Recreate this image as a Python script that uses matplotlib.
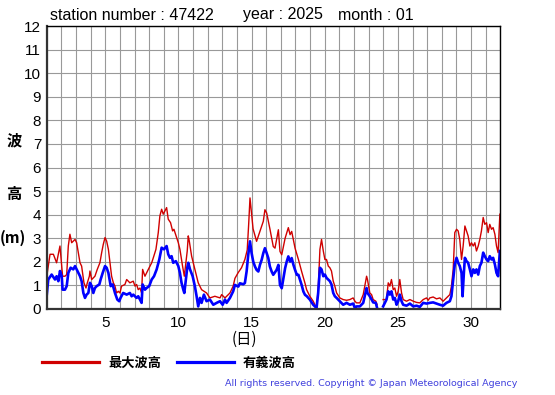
import numpy as np
import matplotlib
matplotlib.use('Agg')
import matplotlib.pyplot as plt

# max wave height (red)
max_day = [1.00, 1.22, 1.45, 1.67, 1.90, 2.08, 2.24, 2.36, 2.47, 2.58, 2.70, 2.93, 3.04, 3.27, 3.38,
           3.54, 3.68, 3.77, 3.91, 3.95, 4.07, 4.29, 4.45, 4.63, 4.75, 4.86, 4.98, 5.09, 5.21, 5.32,
           5.43, 5.55, 5.66, 5.77, 5.89, 6.00, 6.11, 6.34, 6.46, 6.68, 6.91, 7.03, 7.14, 7.25, 7.37,
           7.48, 7.55, 7.71, 7.82, 7.94, 8.17, 8.28, 8.46, 8.62, 8.73, 8.85, 8.96, 9.19, 9.30, 9.46,
           9.60, 9.69, 9.87, 9.99, 10.10, 10.28, 10.40, 10.51, 10.60, 10.67, 10.74, 10.90, 11.12,
           11.35, 11.58, 11.92, 12.15, 12.49, 12.84, 12.95, 13.18, 13.52, 13.74, 13.86, 14.09, 14.31,
           14.54, 14.70, 14.80, 14.89, 15.00, 15.10, 15.34, 15.57, 15.80, 15.91, 16.03, 16.25, 16.48,
           16.60, 16.83, 16.94, 17.06, 17.29, 17.51, 17.63, 17.74, 17.97, 18.20, 18.42, 18.65, 18.76,
           18.98, 19.21, 19.44, 19.55, 19.67, 19.78, 19.90, 20.01, 20.12, 20.24, 20.35, 20.46, 20.58,
           20.69, 20.81, 21.03, 21.26, 21.49, 21.72, 21.94, 22.06, 22.17, 22.40, 22.63, 22.86, 22.92,
           23.08, 23.20, 23.31, 23.49, 23.58, 23.80, 23.99, 24.22, 24.34, 24.45, 24.56, 24.68, 24.79,
           24.91, 25.02, 25.13, 25.25, 25.36, 25.59, 25.82, 26.05, 26.27, 26.50, 26.73, 26.96, 27.07,
           27.18, 27.41, 27.64, 27.87, 28.09, 28.32, 28.55, 28.66, 28.78, 28.89, 29.01, 29.12, 29.23,
           29.35, 29.46, 29.58, 29.69, 29.80, 29.92, 30.03, 30.15, 30.26, 30.37, 30.49, 30.60, 30.71,
           30.83, 30.94, 31.06, 31.17, 31.28, 31.40, 31.51, 31.63, 31.74, 31.85, 31.97]
max_wave = [1.39, 2.32, 2.32, 1.96, 2.67, 1.39, 1.39, 1.46, 2.67, 3.17, 2.81, 2.95, 2.81, 1.96, 1.82,
            1.11, 0.89, 1.11, 1.39, 1.61, 1.25, 1.39, 1.68, 1.96, 2.39, 2.74, 3.03, 2.88, 2.53, 1.96,
            1.39, 1.11, 0.97, 0.68, 0.75, 0.68, 0.97, 1.04, 1.25, 1.11, 1.18, 0.97, 1.04, 0.82, 0.89,
            0.68, 1.68, 1.39, 1.53, 1.68, 1.96, 2.17, 2.53, 3.24, 3.95, 4.23, 4.02, 4.30, 3.81, 3.66,
            3.31, 3.38, 3.03, 2.81, 2.53, 1.82, 1.39, 1.96, 2.46, 3.10, 2.88, 2.24, 1.68,
            1.11, 0.82, 0.68, 0.47, 0.54, 0.47, 0.61, 0.47, 0.68, 0.97, 1.30, 1.55, 1.75,
            2.10, 2.50, 3.60, 4.71, 4.00, 3.40, 2.87, 3.29, 3.72, 4.21, 4.07, 3.40, 2.65,
            2.58, 3.36, 2.44, 2.30, 3.00, 3.45, 3.15, 3.29, 2.58, 2.10, 1.59, 1.09, 0.82,
            0.54, 0.33, 0.04, 0.82, 2.53, 2.95, 2.46, 2.10, 2.10, 1.82, 1.75, 1.61, 1.18,
            0.97, 0.68, 0.47, 0.40, 0.37, 0.40, 0.47, 0.33, 0.26, 0.26, 0.61, 1.39, 1.25,
            0.68, 0.61, 0.40, 0.33, 0.18, np.nan, 0.40, 0.40, 1.11, 0.97, 1.25, 0.82, 0.89,
            0.54, 0.75, 1.25, 0.68, 0.40, 0.33, 0.40, 0.33, 0.28, 0.26, 0.40, 0.47, 0.37,
            0.47, 0.51, 0.43, 0.47, 0.33, 0.47, 0.61, 0.97, 1.68, 3.24, 3.38, 3.31, 2.95,
            2.10, 2.67, 3.52, 3.31, 3.10, 2.67, 2.81, 2.67, 2.81, 2.46, 2.67, 2.95, 3.31,
            3.88, 3.59, 3.66, 3.24, 3.59, 3.38, 3.45, 3.17, 2.67, 2.39, 4.02]

# significant wave height (blue)
sig_day = [1.00, 1.10, 1.33, 1.56, 1.67, 1.79, 1.90, 2.02, 2.08, 2.24, 2.36, 2.47, 2.63, 2.81, 2.93,
           3.04, 3.27, 3.38, 3.50, 3.61, 3.72, 3.84, 3.95, 4.07, 4.18, 4.29, 4.41, 4.59, 4.68, 4.82,
           4.98, 5.09, 5.21, 5.37, 5.50, 5.66, 5.82, 5.95, 6.04, 6.22, 6.46, 6.68, 6.80, 6.91, 7.14,
           7.25, 7.37, 7.48, 7.55, 7.71, 7.82, 8.00, 8.17, 8.33, 8.51, 8.69, 8.85, 9.01, 9.19, 9.30,
           9.42, 9.53, 9.64, 9.82, 9.99, 10.10, 10.21, 10.33, 10.40, 10.51, 10.60, 10.67, 10.79,
           10.97, 11.12, 11.24, 11.35, 11.47, 11.58, 11.74, 11.92, 12.15, 12.38, 12.61, 12.84, 13.02,
           13.18, 13.29, 13.52, 13.63, 13.74, 13.86, 14.09, 14.20, 14.43, 14.54, 14.66, 14.77, 14.89,
           15.00, 15.11, 15.23, 15.34, 15.46, 15.57, 15.69, 15.80, 15.91, 16.03, 16.14, 16.25, 16.37,
           16.48, 16.71, 16.83, 16.94, 17.06, 17.17, 17.29, 17.40, 17.51, 17.63, 17.74, 17.86, 17.97,
           18.09, 18.20, 18.31, 18.42, 18.54, 18.65, 18.76, 18.98, 19.21, 19.44, 19.55, 19.67, 19.78,
           19.90, 20.01, 20.12, 20.24, 20.35, 20.46, 20.58, 20.69, 20.81, 21.03, 21.26, 21.49, 21.72,
           21.94, 22.06, 22.17, 22.40, 22.63, 22.86, 22.92, 23.08, 23.20, 23.31, 23.49, 23.58, 23.80,
           23.99, 24.11, 24.22, 24.34, 24.45, 24.56, 24.68, 24.79, 24.91, 25.02, 25.13, 25.25, 25.36,
           25.59, 25.82, 26.05, 26.27, 26.50, 26.73, 26.96, 27.18, 27.41, 27.64, 27.87, 28.09, 28.32,
           28.55, 28.66, 28.78, 28.89, 29.01, 29.12, 29.23, 29.35, 29.42, 29.51, 29.58, 29.69, 29.80,
           29.92, 30.03, 30.15, 30.26, 30.37, 30.49, 30.60, 30.71, 30.83, 30.94, 31.06, 31.17, 31.28,
           31.40, 31.51, 31.63, 31.74, 31.85, 31.97]
sig_wave = [0.61, 1.25, 1.46, 1.25, 1.39, 1.18, 1.61, 1.39, 0.82, 0.82, 0.97, 1.53, 1.75, 1.68, 1.82,
            1.68, 1.39, 1.18, 0.68, 0.47, 0.61, 0.68, 1.11, 0.97, 0.68, 0.89, 0.97, 1.04, 1.25, 1.53,
            1.82, 1.75, 1.53, 0.97, 1.04, 0.68, 0.40, 0.33, 0.47, 0.68, 0.61, 0.68, 0.54, 0.61, 0.47,
            0.54, 0.40, 0.26, 1.04, 0.82, 0.89, 0.97, 1.25, 1.39, 1.68, 2.10, 2.60, 2.53, 2.67, 2.32,
            2.17, 2.24, 1.96, 2.03, 1.82, 1.53, 1.11, 0.82, 0.68, 1.25, 1.75, 1.96, 1.68,
            1.39, 0.97, 0.54, 0.11, 0.47, 0.26, 0.61, 0.33, 0.40, 0.18, 0.26, 0.33, 0.18,
            0.40, 0.26, 0.47, 0.61, 0.75, 1.02, 0.95, 1.09, 1.05, 1.10, 1.60, 2.30, 2.87,
            2.37, 2.01, 1.80, 1.66, 1.59, 1.87, 2.09, 2.37, 2.58, 2.37, 2.16, 1.80, 1.59,
            1.45, 1.66, 1.87, 1.02, 0.88, 1.30, 1.73, 2.01, 2.23, 2.01, 2.16, 1.87, 1.66,
            1.45, 1.45, 1.23, 1.02, 0.74, 0.60, 0.55, 0.40, 0.18, 0.04, 0.68, 1.75, 1.68,
            1.39, 1.46, 1.32, 1.25, 1.18, 1.04, 0.68, 0.54, 0.47, 0.33, 0.18, 0.26, 0.18,
            0.23, 0.04, 0.11, 0.11, 0.26, 0.89, 0.68, 0.54, 0.40, 0.28, 0.26, 0.04, np.nan,
            0.11, 0.26, 0.40, 0.75, 0.61, 0.75, 0.40, 0.47, 0.18, 0.33, 0.61, 0.33, 0.18,
            0.14, 0.23, 0.11, 0.14, 0.09, 0.26, 0.23, 0.26, 0.28, 0.23, 0.18, 0.14, 0.26,
            0.33, 0.54, 1.25, 1.90, 2.17, 1.96, 1.82, 1.53, 0.54, 1.53, 2.17, 2.03, 1.96,
            1.68, 1.39, 1.68, 1.53, 1.68, 1.46, 1.82, 1.96, 2.39, 2.24, 2.10, 2.03, 2.24,
            2.10, 2.17, 1.89, 1.53, 1.39, 2.46]

x_ticks = [5, 10, 15, 20, 25, 30]
y_ticks = list(range(0, 13))

W, H = 555, 395
fig = plt.figure(figsize=(W / 100, H / 100), dpi=100)
ax = fig.add_axes([46.8 / W, 1 - 309 / H, (500.3 - 46.8) / W, (309 - 26) / H])

red_line, = ax.plot(max_day, max_wave, color='#d00000', lw=1.0, label='最大波高')
blue_line, = ax.plot(sig_day, sig_wave, color='#0000ff', lw=1.9, label='有義波高')

ax.set_xlim(1, 32)
ax.set_ylim(0, 12)
ax.set_xticks(range(1, 33), minor=True)
ax.set_xticks(x_ticks)
ax.set_yticks(y_ticks)
ax.grid(True, which='both', axis='x', color='#999999', lw=0.8)
ax.grid(True, which='major', axis='y', color='#999999', lw=0.8)
ax.set_axisbelow(True)
ax.tick_params(which='both', length=0)
ax.tick_params(axis='x', pad=5)
ax.tick_params(axis='y', pad=4)
for lab in ax.get_xticklabels() + ax.get_yticklabels():
    lab.set_family('Liberation Sans')
    lab.set_fontsize(11)

for side in ['left', 'bottom']:
    ax.spines[side].set_linewidth(1.6)
    ax.spines[side].set_color('#333333')
for side in ['top', 'right']:
    ax.spines[side].set_linewidth(1.0)
    ax.spines[side].set_color('black')

title_font = dict(family='Liberation Sans', fontsize=11.5, va='center')
fig.text(50 / W, 1 - 15 / H, 'station number : 47422', **title_font)
fig.text(243 / W, 1 - 15 / H, 'year : 2025', **title_font)
fig.text(338 / W, 1 - 15 / H, 'month : 01', **title_font)

cjk = dict(family='Noto Sans CJK JP', fontweight='bold', fontsize=11, ha='center', va='center')
fig.text(14 / W, 1 - 140 / H, '波', **cjk)
fig.text(14 / W, 1 - 194 / H, '高', **cjk)
fig.text(13 / W, 1 - 238 / H, '(m)', **cjk)
fig.text(244 / W, 1 - 339 / H, '(日)', family='Noto Sans CJK JP', fontsize=11,
         ha='center', va='center')

leg = fig.legend(handles=[red_line, blue_line], loc='center left',
                 bbox_to_anchor=(42 / W, 1 - 363 / H), ncol=2, frameon=False,
                 borderaxespad=0, borderpad=0, handlelength=4.3, handletextpad=0.7,
                 columnspacing=1.2,
                 prop={'family': 'Noto Sans CJK JP', 'weight': 'bold', 'size': 9.5})
for ln in leg.get_lines():
    ln.set_linewidth(2.3)

fig.text(517 / W, 1 - 384 / H,
         'All rights reserved. Copyright \u00a9 Japan Meteorological Agency',
         family='DejaVu Sans', fontsize=6.8, color='#4040dd', ha='right', va='center')

fig.savefig('out.png', dpi=100)
